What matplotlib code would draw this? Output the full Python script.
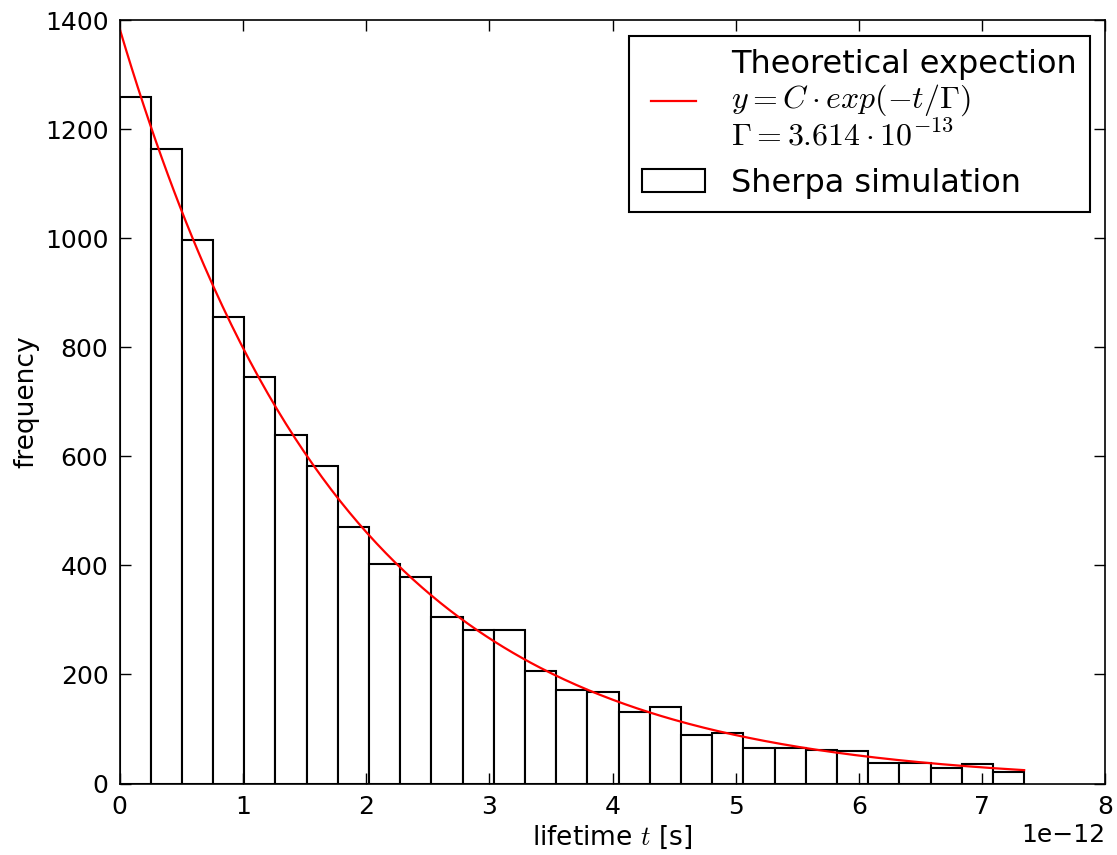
import numpy as np
import matplotlib
matplotlib.use("Agg")
import matplotlib.pyplot as plt

# ---- data ----
counts = [1258, 1164, 997, 855, 746, 639, 583, 470, 403, 379, 306, 282, 281, 207,
          171, 167, 132, 140, 89, 92, 65, 66, 62, 59, 37, 37, 28, 36, 22]
t_min = 0.0
t_max = 7.34e-12
C_fit = 1385.0
tau_fit = 1.82e-12
x_ticks = [0, 1, 2, 3, 4, 5, 6, 7, 8]
y_ticks = [0, 200, 400, 600, 800, 1000, 1200, 1400]

plt.rcParams['mathtext.fontset'] = 'cm'
plt.rcParams['font.family'] = 'DejaVu Sans'

fig = plt.figure(figsize=(11.17, 8.55), dpi=100)
ax = fig.add_axes([0.107, 0.0836, 0.8827, 0.893])

edges = np.linspace(t_min, t_max, len(counts) + 1)
centers = 0.5 * (edges[:-1] + edges[1:])
_, _, patches = ax.hist(centers, bins=edges, weights=counts, histtype='bar',
                        facecolor='white', edgecolor='black', linewidth=1.5,
                        label='Sherpa simulation')

t = np.linspace(t_min, t_max, 300)
line, = ax.plot(t, C_fit * np.exp(-t / tau_fit), color='red', lw=1.6,
                label='Theoretical expection\n$y=C\\cdot exp(-t/\\Gamma)$\n$\\Gamma=3.614\\cdot10^{-13}$')

ax.set_xlim(0, 8e-12)
ax.set_ylim(0, 1400)
ax.set_xticks([v * 1e-12 for v in x_ticks])
ax.set_yticks(y_ticks)
ax.tick_params(direction='in', top=True, right=True, length=8, width=1.0,
               labelsize=18, pad=8)
for s in ax.spines.values():
    s.set_linewidth(1.2)
ax.xaxis.get_offset_text().set_fontsize(18)

ax.set_xlabel('lifetime $t$ [s]', fontsize=19)
ax.set_ylabel('frequency', fontsize=19)

leg = ax.legend(handles=[line, patches[0]],
                labels=[line.get_label(), 'Sherpa simulation'],
                loc='upper right', fontsize=23, numpoints=2, fancybox=False,
                framealpha=1, edgecolor='black', handlelength=2.0)
leg.get_frame().set_linewidth(1.5)
for txt in leg.get_texts():
    txt.set_linespacing(1.1)

fig.savefig('out.png', dpi=100)
